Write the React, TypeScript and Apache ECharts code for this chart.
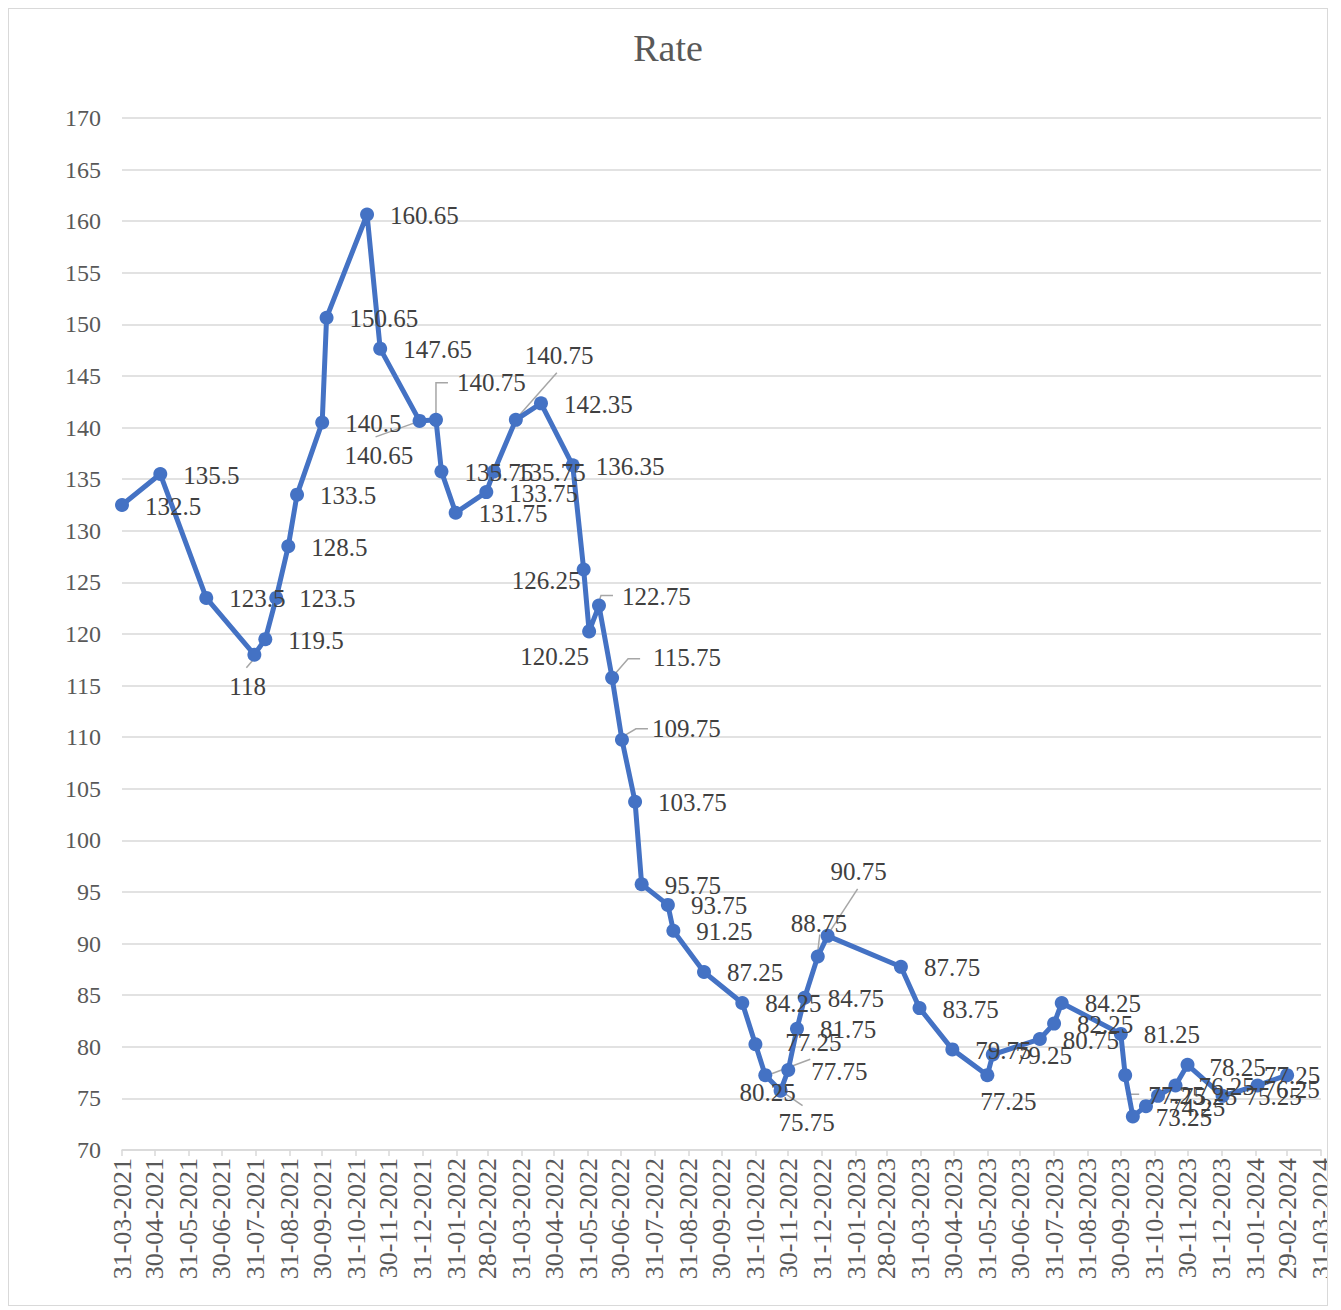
import React, { useEffect, useRef } from "react";
import * as echarts from "echarts";

// ---- data ----
const dates = [
  "2021-03-31", "2021-05-05", "2021-06-16", "2021-07-30", "2021-08-09", "2021-08-19",
  "2021-08-30", "2021-09-07", "2021-09-30", "2021-10-04", "2021-11-10", "2021-11-22",
  "2021-12-28", "2022-01-12", "2022-01-17", "2022-01-30", "2022-02-27", "2022-03-06",
  "2022-03-26", "2022-04-18", "2022-05-17", "2022-05-27", "2022-06-01", "2022-06-10",
  "2022-06-22", "2022-07-01", "2022-07-13", "2022-07-19", "2022-08-12", "2022-08-17",
  "2022-09-14", "2022-10-19", "2022-10-31", "2022-11-09", "2022-11-23", "2022-11-30",
  "2022-12-08", "2022-12-15", "2022-12-27", "2023-01-05", "2023-03-13", "2023-03-30",
  "2023-04-29", "2023-05-31", "2023-06-05", "2023-07-18", "2023-07-31", "2023-08-07",
  "2023-09-30", "2023-10-04", "2023-10-11", "2023-10-23", "2023-11-03", "2023-11-19",
  "2023-11-30", "2024-01-01", "2024-02-02", "2024-02-29",
];
const rates = [
  132.5, 135.5, 123.5, 118, 119.5, 123.5,
  128.5, 133.5, 140.5, 150.65, 160.65, 147.65,
  140.65, 140.75, 135.75, 131.75, 133.75, 135.75,
  140.75, 142.35, 136.35, 126.25, 120.25, 122.75,
  115.75, 109.75, 103.75, 95.75, 93.75, 91.25,
  87.25, 84.25, 80.25, 77.25, 75.75, 77.75,
  81.75, 84.75, 88.75, 90.75, 87.75, 83.75,
  79.75, 77.25, 79.25, 80.75, 82.25, 84.25,
  81.25, 77.25, 73.25, 74.25, 75.25, 76.25,
  78.25, 75.25, 76.25, 77.25,
];
const tickLabels = [
  "31-03-2021", "30-04-2021", "31-05-2021", "30-06-2021", "31-07-2021", "31-08-2021",
  "30-09-2021", "31-10-2021", "30-11-2021", "31-12-2021", "31-01-2022", "28-02-2022",
  "31-03-2022", "30-04-2022", "31-05-2022", "30-06-2022", "31-07-2022", "31-08-2022",
  "30-09-2022", "31-10-2022", "30-11-2022", "31-12-2022", "31-01-2023", "28-02-2023",
  "31-03-2023", "30-04-2023", "31-05-2023", "30-06-2023", "31-07-2023", "31-08-2023",
  "30-09-2023", "31-10-2023", "30-11-2023", "31-12-2023", "31-01-2024", "29-02-2024",
  "31-03-2024",
];
const yMin = 70;
const yMax = 170;
const yStep = 5;

// ---- label layout (pixel offsets from the point: left edge of text, vertical centre) ----
const DEFAULT_OFFSET: [number, number] = [23, 1];
const labelOffsets: Record<number, [number, number]> = {
  3: [-25, 32],
  12: [-75, 35],
  13: [21, -37],
  18: [9, -64],
  21: [-72, 11],
  22: [-69, 25],
  23: [23, -9],
  24: [41, -20],
  25: [30, -11],
  32: [-16, 48],
  33: [20, -33],
  34: [-2, 32],
  38: [-27, -33],
  39: [3, -64],
  43: [-7, 26],
  49: [23, 20],
  54: [22, 3],
  56: [6, 4],
  57: [-23, 0],
};
// leader lines, pixel offsets relative to the point
const leaderLines: Record<number, [number, number][]> = {
  3: [[-8, 13], [-2, 6]],
  12: [[-44, 16], [-5, 2]],
  13: [[0, -5], [0, -37], [12, -37]],
  18: [[3, -4], [41, -47]],
  23: [[0, -4], [2, -10], [14, -10]],
  24: [[3, -4], [16, -19], [28, -19]],
  25: [[2, -4], [14, -11], [26, -11]],
  32: [[1, 4], [10, 37]],
  33: [[5, -1], [45, -16]],
  34: [[3, 2], [22, 15]],
  38: [[0, -5], [2, -22]],
  39: [[2, -4], [30, -47]],
  49: [[2, 3], [2, 19], [14, 19]],
};

const FONT = "'Liberation Serif', 'Times New Roman', serif";

function parseTick(s: string): number {
  const [d, m, y] = s.split("-").map(Number);
  return Date.UTC(y, m - 1, d);
}

export default function App() {
  const ref = useRef<HTMLDivElement>(null);

  useEffect(() => {
    if (!ref.current) return;
    const chart = echarts.init(ref.current, undefined, { renderer: "svg" });

    const tickValues = tickLabels.map(parseTick);
    const tickMap = new Map<number, string>();
    tickValues.forEach((v, i) => tickMap.set(v, tickLabels[i]));

    const times = dates.map((d) => Date.parse(d));
    const lineData = times.map((t, i) => [t, rates[i]]);

    const leaderData = Object.keys(leaderLines).map((k) => {
      const i = Number(k);
      return [times[i], rates[i], i];
    });

    chart.setOption({
      animation: false,
      backgroundColor: "#ffffff",
      title: {
        text: "Rate",
        left: "center",
        top: 15,
        textStyle: {
          fontFamily: FONT,
          fontSize: 38,
          fontWeight: "normal",
          color: "#595959",
        },
      },
      grid: {
        left: 113,
        right: 6,
        top: 109,
        bottom: 155,
        containLabel: false,
        outerBoundsMode: "none",
      },
      xAxis: {
        type: "value",
        min: tickValues[0],
        max: tickValues[tickValues.length - 1],
        axisLine: { show: true, lineStyle: { color: "#d9d9d9", width: 1.5 } },
        axisTick: {
          show: true,
          customValues: tickValues,
          length: 6,
          lineStyle: { color: "#d9d9d9", width: 1.5 },
        },
        axisLabel: {
          customValues: tickValues,
          rotate: 90,
          margin: 8,
          fontFamily: FONT,
          fontSize: 26,
          color: "#595959",
          hideOverlap: false,
          showMinLabel: true,
          showMaxLabel: true,
          formatter: (v: number) => tickMap.get(v) ?? "",
        },
        splitLine: { show: false },
      },
      yAxis: {
        type: "value",
        min: yMin,
        max: yMax,
        interval: yStep,
        axisLine: { show: false },
        axisTick: { show: false },
        axisLabel: {
          margin: 21,
          fontFamily: FONT,
          fontSize: 24,
          color: "#595959",
        },
        splitLine: { show: true, lineStyle: { color: "#d9d9d9", width: 1.5 } },
      },
      series: [
        {
          type: "custom",
          silent: true,
          z: 1,
          data: leaderData,
          renderItem: (params: any, api: any) => {
            const p = api.coord([api.value(0), api.value(1)]);
            const pts = leaderLines[api.value(2)] || [];
            return {
              type: "polyline",
              shape: { points: pts.map(([dx, dy]) => [p[0] + dx, p[1] + dy]) },
              style: { stroke: "#a6a6a6", lineWidth: 1.5, fill: null },
            };
          },
        },
        {
          type: "line",
          z: 2,
          data: lineData,
          symbol: "circle",
          symbolSize: 14,
          showAllSymbol: true,
          lineStyle: { color: "#4472C4", width: 5 },
          itemStyle: { color: "#4472C4" },
          label: {
            show: true,
            position: "inside",
            align: "left",
            verticalAlign: "middle",
            fontFamily: FONT,
            fontSize: 25,
            color: "#404040",
            textBorderWidth: 0,
            formatter: (p: any) => String(p.value[1]),
          },
          labelLayout: (params: any) => {
            const off = labelOffsets[params.dataIndex] || DEFAULT_OFFSET;
            const r = params.rect;
            return {
              x: r.x + r.width / 2 + off[0],
              y: r.y + r.height / 2 + off[1],
              align: "left",
              verticalAlign: "middle",
              hideOverlap: false,
            };
          },
        },
      ],
    });

    return () => {
      chart.dispose();
    };
  }, []);

  return (
    <div
      style={{
        width: 1320,
        height: 1298,
        border: "1px solid #d9d9d9",
        boxSizing: "border-box",
        background: "#fff",
      }}
    >
      <div ref={ref} style={{ width: 1318, height: 1296 }} />
    </div>
  );
}
